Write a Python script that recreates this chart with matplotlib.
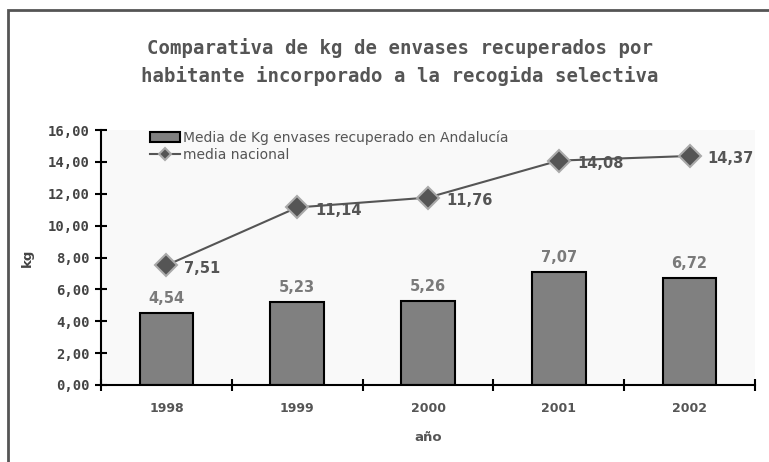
import matplotlib
matplotlib.use("Agg")
import matplotlib.pyplot as plt
from matplotlib.patches import Rectangle

years = ["1998", "1999", "2000", "2001", "2002"]
andalucia = [4.54, 5.23, 5.26, 7.07, 6.72]
nacional = [7.51, 11.14, 11.76, 14.08, 14.37]
yticks = [0, 2, 4, 6, 8, 10, 12, 14, 16]


def coma(v):
    return f"{v:.2f}".replace(".", ",")


fig = plt.figure(figsize=(7.69, 4.62), dpi=100)
ax = fig.add_axes([101 / 769, 1 - 385 / 462, 654 / 769, 255 / 462])
ax.set_facecolor("#f9f9f9")

# marco exterior del grafico
fig.patches.append(Rectangle((8 / 769, -0.2), 1.2, 0.2 + 1 - 10 / 462, transform=fig.transFigure,
                             fill=False, edgecolor="#555555", linewidth=2))

x = list(range(len(years)))
ax.bar(x, andalucia, width=0.41, color="#808080", edgecolor="black",
       linewidth=1.5, label="Media de Kg envases recuperado en Andalucía", zorder=2)
ax.plot(x, nacional, color="#555555", linewidth=1.5, marker="D", markersize=11,
        markerfacecolor="#555555", markeredgecolor="#aaaaaa", markeredgewidth=1.5,
        label="media nacional", zorder=3)

for xi, v in zip(x, andalucia):
    ax.annotate(coma(v), (xi, v), xytext=(0, 5), textcoords="offset points",
                ha="center", va="bottom", fontsize=10.5, fontweight="bold", color="#7a7a7a")
for xi, v in zip(x, nacional):
    ax.annotate(coma(v), (xi, v), xytext=(13, -2), textcoords="offset points",
                ha="left", va="center", fontsize=10.5, fontweight="bold", color="#555555")

ax.set_xlim(-0.5, 4.5)
ax.set_ylim(0, 16)
ax.set_yticks(yticks)
ax.set_yticklabels([coma(t) for t in yticks], family="DejaVu Sans Mono",
                   fontweight="bold", fontsize=10, color="#444444")
ax.set_xticks(x)
ax.set_xticklabels(years, fontweight="bold", fontsize=9, color="#555555")
ax.set_xticks([i - 0.5 for i in range(len(years) + 1)], minor=True)
ax.tick_params(axis="x", which="major", length=0, pad=12)
ax.tick_params(axis="x", which="minor", direction="inout", length=8, width=1.5)
ax.tick_params(axis="y", direction="inout", length=8, width=1.5, pad=4)

for s in ["top", "right"]:
    ax.spines[s].set_visible(False)
for s in ["left", "bottom"]:
    ax.spines[s].set_linewidth(1.5)

ax.set_ylabel("kg", fontsize=9.5, fontweight="bold", color="#444444", labelpad=10)
ax.set_xlabel("año", fontsize=9.5, fontweight="bold", color="#555555", labelpad=12)

handles, labels = ax.get_legend_handles_labels()
leg = ax.legend(handles[::-1], labels[::-1], loc="upper left", bbox_to_anchor=(0.066, 1.02),
                frameon=False, fontsize=10, handlelength=2.2, handletextpad=0.2,
                labelspacing=0.2, borderaxespad=0, numpoints=1, markerscale=0.6)
for t in leg.get_texts():
    t.set_color("#555555")

fig.text(400 / 769, 1 - 62 / 462,
         "Comparativa de kg de envases recuperados por\nhabitante incorporado a la recogida selectiva",
         ha="center", va="center", family="DejaVu Sans Mono", fontweight="bold",
         fontsize=13.7, color="#555555", linespacing=1.5)

fig.savefig("out.png", dpi=100)
